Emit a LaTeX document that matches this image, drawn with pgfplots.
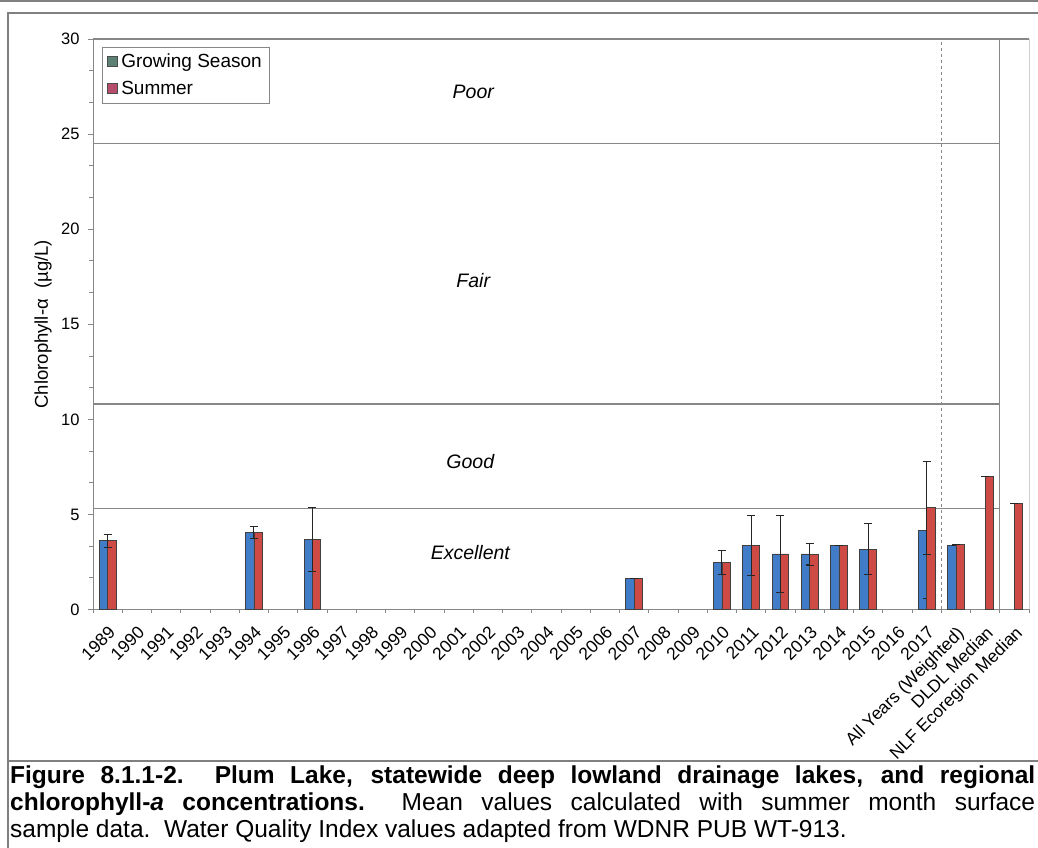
\documentclass[border=0pt]{standalone}
\usepackage{fontspec}
\setmainfont{Liberation Sans}
\usepackage{pgfplots}
\usepackage{pgfplotstable}
\pgfplotsset{compat=1.18}
\definecolor{barblue}{RGB}{64,124,200}
\definecolor{barred}{RGB}{206,74,68}
\definecolor{legblue}{RGB}{92,128,115}
\definecolor{legred}{RGB}{180,78,108}
\definecolor{framegray}{RGB}{128,128,128}
\definecolor{linegray}{RGB}{135,135,135}

\pgfplotstableread{
x y e
0 3.62 0.34
5 4.06 0.30
7 3.69 1.67
18 1.64 0
21 2.46 0.63
22 3.38 1.58
23 2.92 2.04
24 2.92 0.56
25 3.36 0
26 3.17 1.33
28 4.18 3.62
29 3.36 0
}\growing

\pgfplotstableread{
x y e
0 3.62 0.34
5 4.06 0.30
7 3.69 1.67
18 1.64 0
21 2.46 0.63
22 3.38 1.58
23 2.92 2.04
24 2.90 0.58
25 3.36 0
26 3.17 1.33
28 5.36 2.44
29 3.41 0
30 7.00 0
31 5.60 0
}\summer

\begin{document}
\begin{tikzpicture}[x=1pt,y=1pt]
\useasboundingbox (0,0) rectangle (1038,848);
% page frame
\draw[framegray, line width=1.5pt] (0,847) -- (1038,847);
\draw[framegray, line width=2pt] (7.5,-5) -- (7.5,835) -- (1045,835);
\draw[framegray, line width=2pt] (7.5,87) -- (1045,87);
\begin{axis}[
  at={(93pt,238.5pt)}, anchor=south west,
  scale only axis, width=936pt, height=570.5pt,
  xmin=-0.5, xmax=31.5, ymin=0, ymax=30,
  axis x line*=bottom, axis y line*=left,
  axis line style={linegray, line width=1pt},
  ytick={0,5,...,30},
  minor y tick num=2,
  xtick={0,...,31},
  xticklabels={1989,1990,1991,1992,1993,1994,1995,1996,1997,1998,1999,2000,2001,2002,2003,2004,2005,2006,2007,2008,2009,2010,2011,2012,2013,2014,2015,2016,2017,{All Years (Weighted)},{DLDL Median},{NLF Ecoregion Median}},
  every major x tick/.append style={draw=none},
  minor xtick={-0.5,0.5,...,31.5},
  tick align=outside,
  tick style={linegray, line width=0.8pt},
  major tick length=5pt, minor tick length=4pt,
  /pgf/number format/assume math mode=true,
  xticklabel shift=9pt,
  yticklabel shift=5pt,
  xticklabel style={rotate=45, anchor=north east, inner sep=1pt, font=\fontsize{17.5}{20}\selectfont},
  yticklabel style={font=\fontsize{16.5}{19}\selectfont},
  ylabel={Chlorophyll-α\ \ (µg/L)},
  ylabel style={at={(axis description cs:-0.0534,0.5)}, anchor=center, font=\fontsize{18.5}{21}\selectfont},
  legend image code/.code={\draw[#1] (0pt,-4pt) rectangle (9.5pt,5.5pt);},
  legend style={at={(0.0096,0.986)}, anchor=north west, draw=linegray, fill=white,
    font=\fontsize{19}{22}\selectfont, inner xsep=5pt, inner ysep=5pt, row sep=8pt,
    /tikz/every odd column/.append style={column sep=2pt}},
  legend cell align=left,
  clip=false,
]
\addlegendimage{fill=legblue, draw=black!70, line width=0.6pt}
\addlegendentry{Growing Season}
\addlegendimage{fill=legred, draw=black!70, line width=0.6pt}
\addlegendentry{Summer}

% quality class lines
\addplot[linegray, line width=1.3pt, forget plot] coordinates {(-0.5,5.3) (30.5,5.3)};
\addplot[linegray, line width=1.3pt, forget plot] coordinates {(-0.5,10.8) (30.5,10.8)};
\addplot[linegray, line width=1.3pt, forget plot] coordinates {(-0.5,24.5) (30.5,24.5)};
\addplot[linegray, line width=1.2pt, forget plot] coordinates {(-0.5,30) (31.5,30)};
\addplot[linegray, line width=1.2pt, forget plot] coordinates {(30.5,0) (30.5,30)};
\addplot[linegray!40, line width=0.8pt, forget plot] coordinates {(31.5,0) (31.5,30)};
\addplot[linegray, line width=0.9pt, dashed, forget plot] coordinates {(28.5,0) (28.5,30)};

\addplot[ybar, bar width=8.3pt, bar shift=-4.15pt, fill=barblue, draw=black!75, line width=0.7pt, forget plot,
  error bars/.cd, y dir=both, y explicit,
  error bar style={black!85, line width=0.9pt},
  error mark options={rotate=90, mark size=4pt, black!85, line width=0.9pt}]
  table[x=x, y=y, y error=e] {\growing};
\addplot[ybar, bar width=8.3pt, bar shift=4.15pt, fill=barred, draw=black!75, line width=0.7pt, forget plot,
  error bars/.cd, y dir=both, y explicit,
  error bar style={black!85, line width=0.9pt},
  error mark options={rotate=90, mark size=4pt, black!85, line width=0.9pt}]
  table[x=x, y=y, y error=e] {\summer};

\node[font=\itshape\fontsize{19.5}{22}\selectfont] at (axis cs:12.5,27.2) {Poor};
\node[font=\itshape\fontsize{19.5}{22}\selectfont] at (axis cs:12.5,17.3) {Fair};
\node[font=\itshape\fontsize{19.5}{22}\selectfont] at (axis cs:12.4,7.8) {Good};
\node[font=\itshape\fontsize{19.5}{22}\selectfont] at (axis cs:12.4,3.0) {Excellent};
\end{axis}
% caption
\node[anchor=base west, inner sep=0pt] at (10,64) {\makebox[1025pt][s]{\fontsize{24.5}{28}\selectfont\bfseries Figure 8.1.1-2.\ \ Plum Lake, statewide deep lowland drainage lakes, and regional}};
\node[anchor=base west, inner sep=0pt] at (10,37) {\makebox[1025pt][s]{\fontsize{24.5}{28}\selectfont{\bfseries chlorophyll-\textit{a} concentrations.}\ \ Mean values calculated with summer month surface}};
\node[anchor=base west, inner sep=0pt] at (10,10) {\fontsize{24.5}{28}\selectfont sample data.\ \ Water Quality Index values adapted from WDNR PUB WT-913.};
\end{tikzpicture}
\end{document}
